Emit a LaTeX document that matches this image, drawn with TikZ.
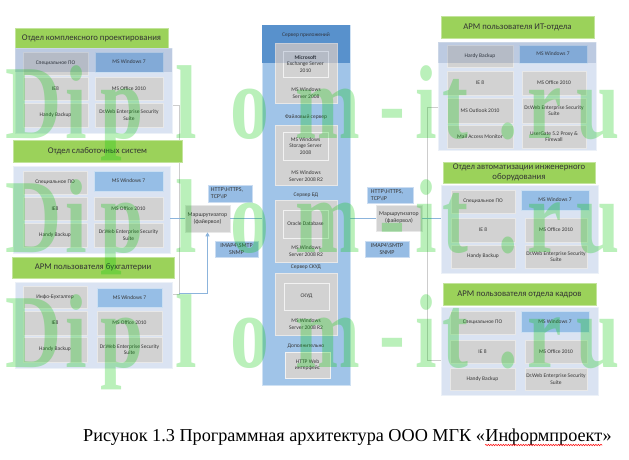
\documentclass[tikz,border=0pt]{standalone}
\usepackage{fontspec}
\setmainfont{Carlito}
\newfontfamily\capfont{Liberation Serif}
\newfontfamily\wmfont{Liberation Serif}
\usetikzlibrary{arrows.meta,decorations.pathmorphing}
\definecolor{greenbar}{RGB}{155,210,90}
\definecolor{panelc}{RGB}{218,227,242}
\definecolor{cellc}{RGB}{210,210,210}
\definecolor{winblue}{RGB}{150,190,230}
\definecolor{srvblue}{RGB}{160,196,232}
\definecolor{srvtop}{RGB}{100,160,218}
\definecolor{protoc}{RGB}{150,188,228}
\definecolor{linec}{RGB}{140,180,220}
\definecolor{framec}{RGB}{205,205,205}
\definecolor{txt}{RGB}{55,55,55}
\definecolor{bandc}{RGB}{20,60,130}
\definecolor{wmc}{RGB}{0,200,0}
\newcommand\mybox[7]{\node[#1, minimum width={#4-#2}, minimum height={#5-#3}] (#6) at ({(#2+#4)/2},{(#3+#5)/2}) {#7};}
\newcommand\wmrow[2]{%
  \foreach \ch/\cx [count=\k] in {D/34,i/76,p/122,l/186,o/250,m/328,-/392,i/426,t/455,./508,r/545,u/598}{%
    \node[wm] (#1\k) at (\cx,#2) {\scalebox{0.74}[1]{\ch}};}}
\begin{document}
\begin{tikzpicture}[x=1pt,y=-1pt,
  base/.style={rectangle, inner sep=1pt, align=center, text=txt},
  gbar/.style={base, fill=greenbar, draw=greenbar!60!white, line width=0.6pt, font=\fontsize{8.7}{9.8}\selectfont, text=black!80},
  panelbox/.style={base, fill=panelc, draw=panelc!50!white, line width=0.8pt},
  cellb/.style={base, fill=cellc, draw=cellc!50!white, line width=0.5pt, font=\fontsize{5.5}{6.5}\selectfont},
  winb/.style={cellb, fill=winblue, draw=winblue!50!white},
  srvpanel/.style={base, fill=srvblue, draw=srvblue!50!white, line width=0.8pt},
  sbox/.style={base, fill=cellc, draw=cellc!50!white, line width=0.6pt},
  sinner/.style={base, fill=cellc, draw=white!70!cellc, line width=0.6pt, font=\fontsize{5.5}{6.5}\selectfont},
  lbl/.style={font=\fontsize{5.5}{6.5}\selectfont, text=txt, align=center, inner sep=0pt},
  router/.style={base, fill=cellc, draw=cellc!50!white, line width=0.6pt, font=\fontsize{5.8}{6.8}\selectfont},
  proto/.style={base, fill=protoc, draw=protoc!50!white, line width=0.6pt, font=\fontsize{6}{7}\selectfont},
  conn/.style={draw=linec, line width=0.7pt},
  framel/.style={draw=framec, line width=0.6pt},
  band/.style={fill=bandc, fill opacity=0.15},
  wm/.style={anchor=base, inner sep=0pt, text=wmc, text opacity=0.27, font=\wmfont\bfseries\fontsize{105}{105}\selectfont}
]
\fill[white] (0,0) rectangle (629,460);
\useasboundingbox (0,0) rectangle (629,460);

% frames
\draw[framel] (160,105) -- (179,105) -- (179,294) -- (160,294);
\draw[framel] (450,107) -- (427,107) -- (427,360) -- (450,360);

% ---------- left group 1
\mybox{gbar}{15}{28}{168}{48}{g1t}{Отдел комплексного проектирования}
\mybox{panelbox}{15}{48}{172}{133}{g1p}{}
\mybox{cellb}{23}{52}{88}{75}{g1a}{Специальное ПО}
\mybox{winb}{95}{52}{163}{72}{g1b}{MS Windows 7}
\mybox{cellb}{23}{77}{88}{100}{g1c}{IE8}
\mybox{cellb}{95}{77}{163}{100}{g1d}{MS Office 2010}
\mybox{cellb}{23}{103}{88}{127}{g1e}{Handy Backup}
\mybox{cellb}{95}{103}{163}{127}{g1f}{Dr.Web Enterprise Security\\Suite}
\fill[band] (15,48) rectangle (172,72);

% ---------- left group 2
\mybox{gbar}{13}{140}{182}{162}{g2t}{Отдел слаботочных систем}
\mybox{panelbox}{13}{166}{170}{253}{g2p}{}
\mybox{cellb}{23}{171}{87}{194}{g2a}{Специальное ПО}
\mybox{winb}{94}{171}{163}{191}{g2b}{MS Windows 7}
\mybox{cellb}{23}{197}{87}{220}{g2c}{IE8}
\mybox{cellb}{94}{197}{163}{220}{g2d}{MS Office 2010}
\mybox{cellb}{23}{223}{87}{247}{g2e}{Handy Backup}
\mybox{cellb}{94}{223}{163}{247}{g2f}{Dr.Web Enterprise Security\\Suite}

% ---------- left group 3
\mybox{gbar}{12}{257}{174}{278}{g3t}{АРМ пользователя бухгалтерии}
\mybox{panelbox}{15}{282}{172}{368}{g3p}{}
\mybox{cellb}{23}{286}{87}{308}{g3a}{Инфо-Бухгалтер}
\mybox{winb}{97}{288}{162}{307}{g3b}{MS Windows 7}
\mybox{cellb}{23}{311}{87}{335}{g3c}{IE8}
\mybox{cellb}{97}{311}{162}{335}{g3d}{MS Office 2010}
\mybox{cellb}{23}{337}{87}{362}{g3e}{Handy Backup}
\mybox{cellb}{97}{337}{162}{362}{g3f}{Dr.Web Enterprise Security\\Suite}

% ---------- server column
\mybox{srvpanel}{262}{25}{350}{385}{srv}{}
\fill[srvtop] (262.4,25.4) rectangle (349.6,63);
\node[lbl] (st1) at (306,35) {Сервер приложений};
\mybox{sbox}{275}{43}{337}{103}{s1}{}
\mybox{sinner}{283}{51}{328}{77}{s1i}{\textbf{Microsoft}\\Exchange Server\\2010}
\node[lbl] (s1l) at (306,93) {MS Windows\\Server 2008};
\node[lbl] (st2) at (306,117) {Файловый сервер};
\mybox{sbox}{275}{125}{337}{185}{s2}{}
\mybox{sinner}{283}{132}{328}{160}{s2i}{MS Windows\\Storage Server\\2008}
\node[lbl] (s2l) at (306,176) {MS Windows\\Server 2008 R2};
\node[lbl] (st3) at (306,195) {Сервер БД};
\mybox{sbox}{275}{200}{337}{262}{s3}{}
\mybox{sinner}{283}{210}{328}{238}{s3i}{Oracle Database}
\node[lbl] (s3l) at (306,251) {MS Windows\\Server 2008 R2};
\node[lbl] (st4) at (306,267) {Сервер СКУД};
\mybox{sbox}{275}{273}{337}{335}{s4}{}
\mybox{sinner}{284}{283}{329}{310}{s4i}{СКУД}
\node[lbl] (s4l) at (306,324) {MS Windows\\Server 2008 R2};
\node[lbl] (st5) at (306,346) {Дополнительно};
\mybox{sinner}{285}{352}{330}{378}{s5}{HTTP Web\\интерфейс}
\fill[band] (262.4,25.4) rectangle (349.6,63);

% ---------- routers and protocol labels
\mybox{router}{185}{205}{230}{232}{r1}{Маршрутизатор\\(файервол)}
\mybox{proto}{208}{185}{252}{202}{p1}{\hspace*{-6pt}HTTP\textbackslash HTTPS,\\\hspace*{-6pt}TCP\textbackslash IP\hspace*{16pt}}
\mybox{proto}{215}{241}{258}{257}{p2}{IMAP4\textbackslash SMTP\\SNMP}
\mybox{router}{376}{205}{422}{231}{r2}{Маршрутизатор\\(файервол)}
\mybox{proto}{367}{187}{413}{203}{p3}{\hspace*{-6pt}HTTP\textbackslash HTTPS,\\\hspace*{-6pt}TCP\textbackslash IP\hspace*{16pt}}
\mybox{proto}{365}{241}{409}{257}{p4}{IMAP4\textbackslash SMTP\\SNMP}

% ---------- right group 1
\mybox{gbar}{441}{16}{594}{38}{h1t}{АРМ пользователя ИТ-отдела}
\mybox{panelbox}{438}{42}{596}{150}{h1p}{}
\mybox{cellb}{447}{45}{513}{67}{h1a}{Hardy Backup}
\mybox{winb}{519}{45}{587}{63}{h1b}{MS Windows 7}
\mybox{cellb}{447}{71}{513}{95}{h1c}{IE 8}
\mybox{cellb}{522}{71}{586}{95}{h1d}{MS Office 2010}
\mybox{cellb}{447}{98}{513}{123}{h1e}{MS Outlook 2010}
\mybox{cellb}{522}{98}{586}{123}{h1f}{Dr.Web Enterprise Security\\Suite}
\mybox{cellb}{447}{125}{513}{148}{h1g}{Mail Access Monitor}
\mybox{cellb}{522}{125}{586}{148}{h1h}{UserGate 5.2 Proxy \&\\Firewall}
\fill[band] (438,42) rectangle (596,63);

% ---------- right group 2
\mybox{gbar}{443}{162}{595}{183}{h2t}{Отдел автоматизации инженерного\\оборудования}
\mybox{panelbox}{441}{185}{598}{273}{h2p}{}
\mybox{cellb}{451}{190}{515}{213}{h2a}{Специальное ПО}
\mybox{winb}{521}{190}{589}{210}{h2b}{MS Windows 7}
\mybox{cellb}{451}{218}{515}{242}{h2c}{IE 8}
\mybox{cellb}{525}{218}{587}{242}{h2d}{MS Office 2010}
\mybox{cellb}{451}{245}{515}{268}{h2e}{Handy Backup}
\mybox{cellb}{525}{245}{587}{268}{h2f}{Dr.Web Enterprise Security\\Suite}

% ---------- right group 3
\mybox{gbar}{443}{283}{596}{305}{h3t}{АРМ пользователя отдела кадров}
\mybox{panelbox}{441}{307}{598}{395}{h3p}{}
\mybox{cellb}{450}{311}{515}{334}{h3a}{Специальное ПО}
\mybox{winb}{521}{311}{589}{332}{h3b}{MS Windows 7}
\mybox{cellb}{450}{340}{515}{363}{h3c}{IE 8}
\mybox{cellb}{525}{340}{587}{363}{h3d}{MS Office 2010}
\mybox{cellb}{450}{368}{515}{390}{h3e}{Handy Backup}
\mybox{cellb}{525}{368}{587}{390}{h3f}{Dr.Web Enterprise Security\\Suite}

% ---------- connectors
\coordinate (acorner) at (179,293);
\draw[conn] (r1.west -| g2p.east) -- (r1.west);
\draw[conn] (r1.east) -- (r1.east -| srv.west);
\draw[conn, -{Triangle[length=4pt,width=4pt]}] (acorner) -| (r1.south);
\draw[conn] (r2.west -| srv.east) -- (r2.west);
\draw[conn] (r2.east) -- (r2.east -| h2p.west);

% ---------- caption
\node[anchor=base west, inner sep=0pt, font=\capfont\fontsize{18.2}{20}\selectfont] (c1) at (83,441) {Рисунок 1.3 Программная архитектура ООО МГК «};
\node[anchor=base west, inner sep=0pt, font=\capfont\fontsize{18.2}{20}\selectfont] (c2) at (c1.base east) {Информпроект};
\node[anchor=base west, inner sep=0pt, font=\capfont\fontsize{18.2}{20}\selectfont] (c3) at (c2.base east) {»};
\draw[red, line width=0.5pt, decorate, decoration={snake, amplitude=0.7pt, segment length=2.5pt}] ([yshift=-4pt]c2.base west) -- ([yshift=-4pt]c2.base east);

% ---------- watermark
\wmrow{wa}{138}
\wmrow{wb}{252}
\wmrow{wc}{367}
\end{tikzpicture}
\end{document}
